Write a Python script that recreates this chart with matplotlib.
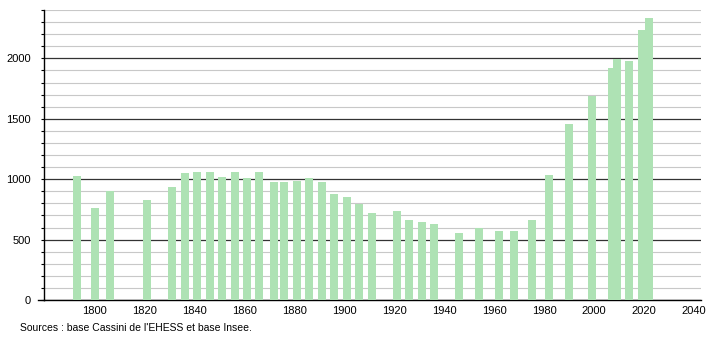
"""plot.py
Evolution demographique (recensements), barres vertes facon Wikipedia.
"""
import matplotlib
matplotlib.use("Agg")
import matplotlib.pyplot as plt
from matplotlib.ticker import MultipleLocator

# annees de recensement et population
years = [1793, 1800, 1806, 1821, 1831, 1836, 1841, 1846, 1851, 1856,
         1861, 1866, 1872, 1876, 1881, 1886, 1891, 1896, 1901, 1906,
         1911, 1921, 1926, 1931, 1936, 1946, 1954, 1962, 1968, 1975,
         1982, 1990, 1999, 2007, 2009, 2014, 2019, 2022]
population = [1028, 758, 900, 825, 936, 1050, 1061, 1061, 1017, 1061,
              1008, 1061, 975, 975, 983, 1008, 975, 875, 850, 797,
              722, 733, 658, 642, 625, 558, 592, 575, 575, 658,
              1033, 1458, 1692, 1917, 1992, 1975, 2233, 2333]
x_ticks = [1800, 1820, 1840, 1860, 1880, 1900, 1920, 1940, 1960, 1980,
           2000, 2020, 2040]
source = "Sources : base Cassini de l'EHESS et base Insee."

plt.rcParams["font.family"] = ["Liberation Sans", "DejaVu Sans"]

fig = plt.figure(figsize=(7.1, 3.4), dpi=100)
ax = fig.add_axes([44 / 710, 40 / 340, (700.7 - 44) / 710, 290 / 340])

ax.bar(years, population, width=3.2, color="#aee2b4", zorder=3)

ax.set_xlim(1779.7, 2042.7)
ax.set_ylim(0, 2400)
ax.set_xticks(x_ticks)
ax.yaxis.set_major_locator(MultipleLocator(500))
ax.yaxis.set_minor_locator(MultipleLocator(100))

ax.grid(axis="y", which="minor", color="#c8c8c8", linewidth=0.8, zorder=1)
ax.grid(axis="y", which="major", color="#333333", linewidth=0.9, zorder=2)

for side in ("top", "right"):
    ax.spines[side].set_visible(False)
ax.spines["left"].set_linewidth(1.0)
ax.spines["bottom"].set_linewidth(1.0)
# petit depassement de l'axe des x a gauche
ax.plot([-6 / 656.7, 0], [0, 0], transform=ax.transAxes, color="black",
        linewidth=1.0, clip_on=False)

ax.tick_params(axis="x", length=0, pad=4, labelsize=8)
ax.tick_params(axis="y", which="both", length=2.5, width=0.8, pad=7,
               labelsize=8)

fig.text(20 / 710, 1 - 328 / 340, source, fontsize=7.5, va="center",
         ha="left")

fig.savefig("out.png", dpi=100)
plt.close(fig)
